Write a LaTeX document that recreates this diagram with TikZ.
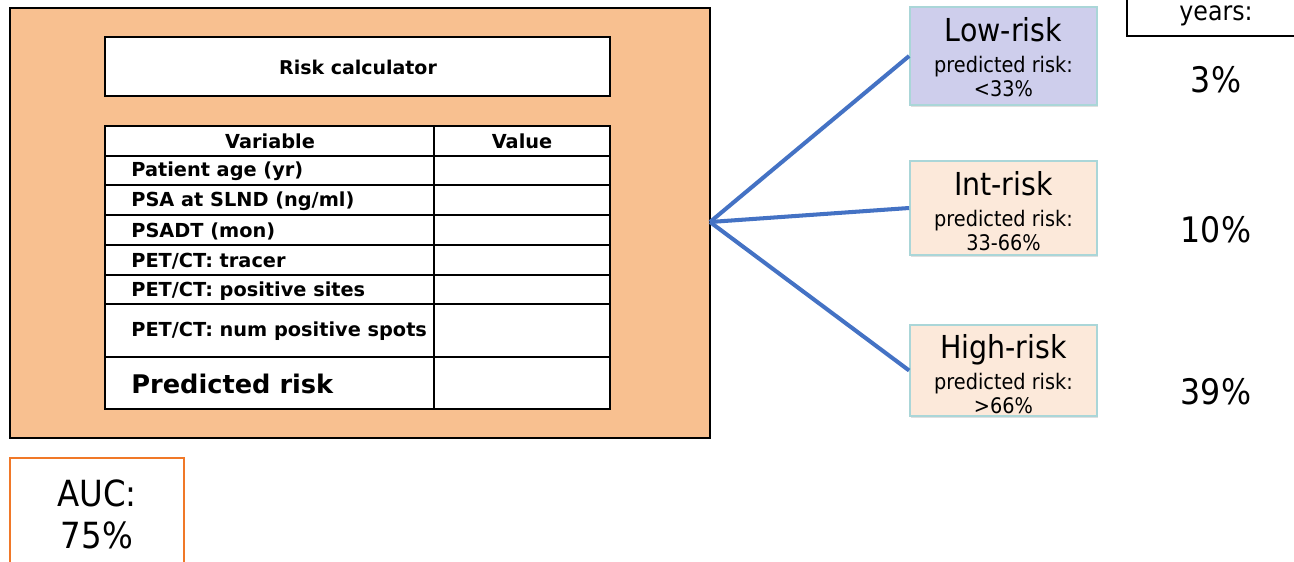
\documentclass[tikz,border=0pt]{standalone}
\usepackage{fontspec}
\setmainfont{DejaVu Sans}
\newfontfamily\narrowfont{DejaVu Sans}[FakeStretch=0.9]
\usetikzlibrary{positioning,shadows}
\definecolor{calcbg}{RGB}{248,192,144}
\definecolor{lowfill}{RGB}{206,206,236}
\definecolor{riskfill}{RGB}{252,233,218}
\definecolor{riskline}{RGB}{170,214,216}
\definecolor{linkblue}{RGB}{68,114,196}
\definecolor{aucline}{RGB}{240,120,40}

\tikzset{
    rowtext/.style={anchor=west, font=\bfseries\fontsize{11}{12}\selectfont, inner sep=0pt},
    headtext/.style={font=\bfseries\fontsize{11}{12}\selectfont},
    riskbox/.style={draw=riskline, line width=1pt, minimum width=187*0.02cm, inner sep=0pt,
                    drop shadow={opacity=0.25, shadow xshift=0.6pt, shadow yshift=-1.2pt}},
    riskname/.style={anchor=base, font=\narrowfont\fontsize{18}{19}\selectfont, inner sep=0pt},
    risksub/.style={anchor=base, font=\narrowfont\fontsize{12.2}{13}\selectfont, inner sep=0pt},
    pcttext/.style={font=\narrowfont\fontsize{20}{21}\selectfont},
    link/.style={draw=linkblue, line width=2.3pt}
}

\begin{document}
\begin{tikzpicture}[x=0.02cm, y=-0.02cm]
        \useasboundingbox (0, 0) rectangle (1294, 561);

        % calculator panel
        \draw[fill=calcbg, line width=0.9pt] (10, 8) rectangle (710, 438);
        \draw[fill=white, line width=1.2pt] (105, 37) rectangle (610, 96);
        \node[font=\bfseries\fontsize{10.8}{12}\selectfont] (title) at (358, 67) {Risk calculator};

        % table
        \draw[fill=white, line width=1.2pt] (105, 126) rectangle (610, 409);
        \draw[line width=1.2pt] (105, 156) -- (610, 156);
        \draw[line width=0.8pt] (105, 185) -- (610, 185);
        \draw[line width=0.8pt] (105, 215) -- (610, 215);
        \draw[line width=0.8pt] (105, 245) -- (610, 245);
        \draw[line width=0.8pt] (105, 275) -- (610, 275);
        \draw[line width=0.8pt] (105, 304) -- (610, 304);
        \draw[line width=0.8pt] (105, 357) -- (610, 357);
        \draw[line width=1.2pt] (434, 126) -- (434, 409);

        \node[headtext] (var) at (270, 141) {Variable};
        \node[headtext] (val) at (522, 141) {Value};
        \node[rowtext] (age) at (131, 171) {Patient age (yr)};
        \node[rowtext] (psa) at (131, 201) {PSA at SLND (ng/ml)};
        \node[rowtext] (psadt) at (131, 231) {PSADT (mon)};
        \node[rowtext] (tracer) at (131, 261) {PET/CT: tracer};
        \node[rowtext] (sites) at (131, 291) {PET/CT: positive sites};
        \node[rowtext] (spots) at (131, 331) {PET/CT: num positive spots};
        \node[rowtext, font=\bfseries\fontsize{14.6}{16}\selectfont] (pred) at (131, 384) {Predicted risk};

        % risk groups
        \coordinate (hub) at (710, 222);
        \node[riskbox, fill=lowfill, minimum height=98*0.02cm] (low) at (1003.5, 56) {};
        \node[riskbox, fill=riskfill, minimum height=94*0.02cm] (int) at (1003.5, 208) {};
        \node[riskbox, fill=riskfill, minimum height=91*0.02cm] (high) at (1003.5, 370.5) {};

        \node[riskname] (lowname) at (1003.5, 41) {Low-risk};
        \node[risksub] (lowsub) at (1003.5, 72) {predicted risk:};
        \node[risksub] (lowval) at (1003.5, 96) {<33\%};

        \node[riskname] (intname) at (1003.5, 195) {Int-risk};
        \node[risksub] (intsub) at (1003.5, 226) {predicted risk:};
        \node[risksub] (intval) at (1003.5, 250) {33-66\%};

        \node[riskname] (highname) at (1003.5, 358) {High-risk};
        \node[risksub] (highsub) at (1003.5, 389) {predicted risk:};
        \node[risksub] (highval) at (1003.5, 413) {>66\%};

        \draw[link] (hub) -- (low.west);
        \draw[link] (hub) -- (int.west);
        \draw[link] (hub) -- (high.west);

        % observed column
        \draw[line width=0.8pt] (1127, -10) rectangle (1310, 36);
        \node[anchor=base, font=\narrowfont\fontsize{15}{16}\selectfont, inner sep=0pt] (yrs) at (1216, 20) {years:};
        \node[pcttext] (lowpct) at (1216, 80) {3\%};
        \node[pcttext] (intpct) at (1216, 230) {10\%};
        \node[pcttext] (highpct) at (1216, 392) {39\%};

        % discrimination
        \draw[draw=aucline, line width=0.9pt] (10, 458) rectangle (184, 575);
        \node[align=center, font=\narrowfont\fontsize{20.5}{24}\selectfont] (auc) at (97, 514) {AUC:\\75\%};
    \end{tikzpicture}
\end{document}
